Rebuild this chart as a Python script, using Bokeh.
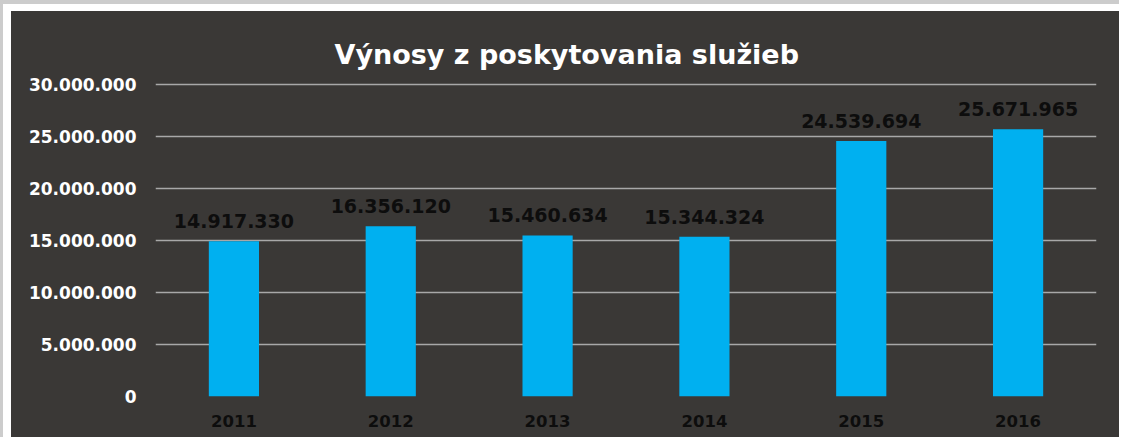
from bokeh.plotting import figure
from bokeh.layouts import column
from bokeh.models import ColumnDataSource, Range1d, CustomJSTickFormatter, FixedTicker, Title
from bokeh.core.properties import value
from bokeh.embed import file_html
from bokeh.resources import INLINE

years = ["2011", "2012", "2013", "2014", "2015", "2016"]
revenues = [14917330, 16356120, 15460634, 15344324, 24539694, 25671965]
labels = [f"{v:,}".replace(",", ".") for v in revenues]
y_ticks = [0, 5000000, 10000000, 15000000, 20000000, 25000000, 30000000]
title_text = "Výnosy z poskytovania služieb"

BG = "#3a3836"
BAR = "#00b0f0"

src = ColumnDataSource(dict(year=years, rev=revenues, lab=labels))

p = figure(x_range=years, y_range=Range1d(0, 30150000), width=1108, height=426,
           output_backend="svg", toolbar_location=None,
           min_border_left=144, min_border_right=23, min_border_top=71, min_border_bottom=41,
           styles={"background-color": BG})
p.background_fill_color = None
p.border_fill_color = None
p.outline_line_color = None

t = Title(text=title_text, align="left", offset=179, vertical_align="middle", standoff=24,
          text_color="white", text_font="DejaVu Sans", text_font_size="27px", text_font_style="bold")
p.add_layout(t, "above")

p.vbar(x="year", top="rev", width=0.32, source=src, fill_color=BAR, line_color=None)
p.text(x="year", y="rev", text="lab", source=src, y_offset=-20,
       text_align="center", text_baseline="alphabetic",
       text_font=value("DejaVu Sans"), text_font_size="19px", text_font_style="bold",
       text_color="#0d0d0d")

p.yaxis.ticker = FixedTicker(ticks=y_ticks)
p.yaxis.formatter = CustomJSTickFormatter(code="return tick.toFixed(0).replace(/\\B(?=(\\d{3})+(?!\\d))/g, '.');")
for ax in (p.xaxis, p.yaxis):
    ax.axis_line_color = None
    ax.major_tick_line_color = None
    ax.minor_tick_line_color = None
    ax.major_label_text_font = "DejaVu Sans"
    ax.major_label_text_font_style = "bold"
p.yaxis.major_label_text_font_size = "17px"
p.xaxis.major_label_text_font_size = "16.5px"
p.yaxis.major_label_text_color = "white"
p.yaxis.major_label_standoff = 13
p.xaxis.major_label_text_color = "#0d0d0d"
p.xaxis.major_label_standoff = 12

p.xgrid.visible = False
p.ygrid.grid_line_color = "#a8a8a8"
p.ygrid.grid_line_width = 1.5

layout = column(p, styles={"background-color": "white", "padding-left": "8px", "padding-top": "7px",
                           "border-left": "3px solid #cccccc", "border-top": "4px solid #cccccc"})

html = file_html(layout, INLINE)
open("out.html", "w").write(html)
